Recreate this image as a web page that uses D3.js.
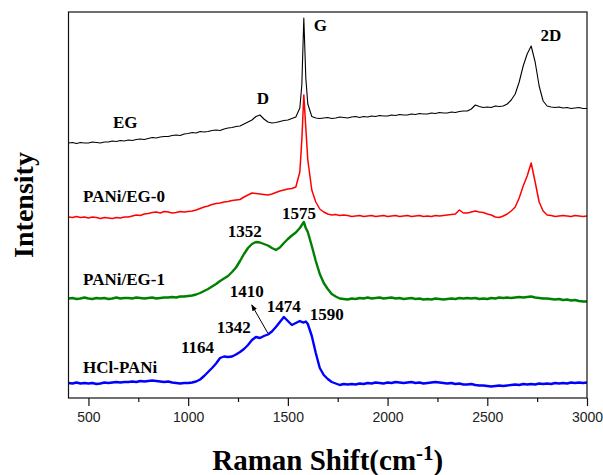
<!DOCTYPE html>
<html>
<head>
<meta charset="utf-8">
<script src="https://cdn.jsdelivr.net/npm/d3@7"></script>
<style>
  html, body { margin: 0; padding: 0; background: #fff; }
  svg { display: block; }
</style>
</head>
<body>
<div id="chart"></div>
<script>
// Raman shift grid (cm-1)
const shift = [
  400, 420, 440, 460, 480,
  500, 520, 540, 560, 580,
  600, 620, 640, 660, 680,
  700, 720, 740, 760, 780,
  800, 820, 840, 860, 880,
  900, 920, 940, 960, 980,
  1000, 1020, 1040, 1060, 1080,
  1100, 1120, 1140, 1160, 1180,
  1200, 1220, 1240, 1260, 1280,
  1300, 1320, 1340, 1360, 1380,
  1400, 1420, 1440, 1460, 1480,
  1500, 1520, 1540, 1560, 1570, 1580, 1590,
  1600, 1620, 1640, 1660, 1680,
  1700, 1720, 1740, 1760, 1780,
  1800, 1820, 1840, 1860, 1880,
  1900, 1920, 1940, 1960, 1980,
  2000, 2020, 2040, 2060, 2080,
  2100, 2120, 2140, 2160, 2180,
  2200, 2220, 2240, 2260, 2280,
  2300, 2320, 2340, 2360, 2380,
  2400, 2420, 2440, 2460, 2480,
  2500, 2520, 2540, 2560, 2580,
  2600, 2620, 2640, 2660, 2680,
  2700, 2720, 2740, 2760, 2780,
  2800, 2820, 2840, 2860, 2880,
  2900, 2920, 2940, 2960, 2980,
  3000
];

// stacked intensities (a.u.), as plotted
const eg = [
  255, 255.5, 254.5, 255.5, 255,
  255, 256, 255.5, 255, 256,
  256, 257, 256.5, 257.5, 257,
  258, 257.5, 258.5, 259, 258.5,
  259.5, 260.5, 260, 261, 261.5,
  261.5, 262.5, 263, 262.5, 264,
  264.5, 265.5, 265, 266.5, 266,
  266.5, 267.5, 268, 267.5, 269,
  270, 270.5, 271.5, 272, 274,
  276, 278, 281.5, 283, 279,
  276, 275, 275.5, 276.5, 277.5,
  278, 279.5, 281, 290, 313, 380, 320,
  294, 281.5, 280, 279.5, 280,
  280.5, 279.5, 280, 281, 280.5,
  280, 281, 281.5, 280.5, 281.5,
  281, 282, 281.5, 282.5, 282,
  282, 283, 282.5, 283.5, 283,
  283, 284, 283.5, 284.5, 284,
  284, 285, 284.5, 285.5, 285,
  285, 286, 285.5, 286.5, 287,
  287, 289, 293, 291.5, 290.5,
  291, 290.5, 292, 291.5, 292,
  294, 298, 304, 316, 332,
  344, 352, 336, 312, 297,
  292, 291, 290.5, 291, 290,
  290.5, 289.5, 290, 290.5, 289.5,
  289.5
];

const paniEg0 = [
  181, 180.5, 181.5, 180.5, 181,
  180, 181, 180.5, 179.5, 180.5,
  180, 179.5, 180.5, 180, 181,
  181, 182, 183, 182.5, 184,
  184.5, 185.5, 186, 185, 186.5,
  186, 185, 185.5, 186.5, 186,
  186.5, 187, 188, 189.5, 191,
  192, 193.5, 194.5, 195, 196,
  196.5, 197.5, 198, 198.5, 201,
  203, 205, 204.5, 204, 203.5,
  203, 204, 205.5, 207, 208,
  209, 209.5, 211, 226, 258, 303, 270,
  238, 208, 196, 189, 186,
  184, 183, 183.5, 182.5, 183,
  182.5, 181.5, 182, 182.5, 181.5,
  182, 182.5, 181.5, 182, 182.5,
  181.5, 182, 182.5, 181.5, 182,
  182.5, 181.5, 182, 182.5, 181.5,
  182, 181.5, 182.5, 182, 182.5,
  183, 183.5, 184, 188, 185,
  185, 186, 187, 186, 185.5,
  184, 183, 181, 180.5, 182,
  184, 187, 191, 200, 212,
  222, 235, 216, 196, 187,
  183, 182.5, 181.5, 182, 182.5,
  182, 181.5, 182.5, 182, 181.5,
  182
];

const paniEg1 = [
  99.5, 100, 99, 99.5, 100.5,
  99.5, 99, 100, 99.5, 100,
  99, 99.5, 100.5, 99.5, 100,
  100, 99.5, 100.5, 100, 99.5,
  100, 100.5, 99.5, 100, 100.5,
  100.5, 101, 100.5, 101.5, 101.5,
  102, 102.5, 103.5, 105, 107,
  109, 111.5, 114, 117, 119.5,
  122, 126, 130.5, 137, 144,
  150, 154, 156, 155.5, 154,
  152.5, 150, 148, 150.5, 155,
  159, 162.5, 165.5, 170, 173, 176, 170,
  166, 152, 137, 124, 115,
  109, 104, 101.5, 99.5, 99,
  98.5, 99.5, 99, 100, 99.5,
  100.5, 99.5, 100, 100.5, 99.5,
  100, 100.5, 99.5, 100, 99,
  99.5, 100, 99, 99.5, 98.5,
  99, 98.5, 99.5, 99, 98.5,
  99, 99.5, 99, 100, 99.5,
  100, 99.5, 100, 99, 99.5,
  99, 100, 99.5, 100.5, 100,
  100.5, 100, 100.5, 101, 100.5,
  101, 101.5, 100.5, 100, 99.5,
  99.5, 99, 98.5, 99, 98,
  98.5, 97.5, 98, 97, 96.5,
  96.5
];

const hclPani = [
  15, 14.5, 15.5, 14.5, 15,
  14.5, 15, 14, 14.5, 15.5,
  15, 15.5, 16, 15.5, 16,
  16, 16.5, 16, 17, 16.5,
  17, 17.5, 17, 16.5, 16,
  16.5, 15.5, 15, 14.5, 15,
  15, 15.5, 16.5, 18.5, 22,
  26, 30, 34.5, 40, 41.5,
  41, 41.5, 43.5, 46, 49,
  53, 58, 61, 60, 62,
  63.5, 66.5, 71, 76, 81,
  77, 73, 75, 77, 76, 75.5, 76.5,
  74, 62, 45, 30, 23,
  19, 16, 14.5, 13, 14,
  13.5, 14, 13.5, 14.5, 14,
  15, 14.5, 15.5, 15, 14.5,
  15.5, 15, 16, 15.5, 15,
  15.5, 16, 15, 15.5, 14.5,
  15, 15.5, 16, 15.5, 15,
  14.5, 15, 14, 14.5, 13.5,
  13.5, 14, 13, 12.5, 12.5,
  12, 11.5, 12, 12.5, 12,
  12.5, 13, 13.5, 13, 14,
  13.5, 14, 13.5, 14.5, 14,
  14.5, 14, 15, 14.5, 15,
  14.5, 15.5, 15, 15.5, 15,
  15.5
];

const majorTicks = [500, 1000, 1500, 2000, 2500, 3000];
const minorTicks = [750, 1250, 1750, 2250, 2750];

// annotation texts and their anchors (cm-1, a.u.)
const labelText = ['EG', 'D', 'G', '2D', 'PANi/EG-0', '1352', '1575', 'PANi/EG-1',
  '1410', '1474', '1342', '1590', '1164', 'HCl-PANi'];
const labelShift = [623, 1344, 1630, 2767, 473, 1199, 1470, 473, 1209, 1394, 1144, 1610, 964, 473];
const labelLevel = [270, 294, 367, 357, 196, 161, 179, 113, 101, 86, 65, 78, 45, 25];

// arrow pointing at the 1410 shoulder
const arrowShift = [1399, 1319];
const arrowLevel = [65, 93];

const width = 603;
const height = 475;
const margin = { top: 12, right: 16, bottom: 77, left: 68.5 };

const svg = d3.select('#chart').append('svg')
  .attr('width', width)
  .attr('height', height);

const x = d3.scaleLinear().domain([400, 3000]).range([margin.left, width - margin.right]);
const y = d3.scaleLinear().domain([0, 386]).range([height - margin.bottom, margin.top]);

const serif = '"Liberation Serif", "Times New Roman", Times, serif';

// Spectra

const series = [
  { values: eg, color: '#000000', w: 1.1 },
  { values: paniEg0, color: '#ff0000', w: 1.5 },
  { values: paniEg1, color: '#008000', w: 2.4 },
  { values: hclPani, color: '#0000ff', w: 2.4 },
];

const line = d3.line()
  .x((d, i) => x(shift[i]))
  .y(d => y(d));

svg.selectAll('path.spectrum')
  .data(series)
  .join('path')
  .attr('class', 'spectrum')
  .attr('d', d => line(d.values))
  .attr('fill', 'none')
  .attr('stroke', d => d.color)
  .attr('stroke-width', d => d.w)
  .attr('stroke-linejoin', 'round');

// Frame

svg.append('rect')
  .attr('x', x(400))
  .attr('y', y(386))
  .attr('width', x(3000) - x(400))
  .attr('height', y(0) - y(386))
  .attr('fill', 'none')
  .attr('stroke', '#111')
  .attr('stroke-width', 1.2);

// Bottom axis

const xAxis = svg.append('g')
  .attr('transform', `translate(0,${y(0)})`)
  .call(d3.axisBottom(x).tickValues(majorTicks).tickSize(8).tickPadding(6).tickFormat(d3.format('d')));
xAxis.select('.domain').remove();
xAxis.selectAll('line').attr('stroke', '#111').attr('stroke-width', 1.2);
xAxis.selectAll('text')
  .attr('fill', '#222')
  .style('font-family', '"Liberation Sans", Arial, sans-serif')
  .style('font-size', '14px');

const xMinor = svg.append('g')
  .attr('transform', `translate(0,${y(0)})`)
  .call(d3.axisBottom(x).tickValues(minorTicks).tickSize(4).tickFormat(''));
xMinor.select('.domain').remove();
xMinor.selectAll('line').attr('stroke', '#111').attr('stroke-width', 1.2);

// Annotations

svg.selectAll('text.note')
  .data(labelText)
  .join('text')
  .attr('class', 'note')
  .attr('x', (d, i) => x(labelShift[i]))
  .attr('y', (d, i) => y(labelLevel[i]))
  .style('font-family', serif)
  .style('font-weight', 'bold')
  .style('font-size', '17px')
  .attr('fill', '#000')
  .text(d => d);

svg.append('defs').append('marker')
  .attr('id', 'head')
  .attr('viewBox', '0 0 8 6')
  .attr('refX', 7)
  .attr('refY', 3)
  .attr('markerWidth', 7)
  .attr('markerHeight', 5)
  .attr('orient', 'auto')
  .append('path')
  .attr('d', 'M0,0 L8,3 L0,6 Z')
  .attr('fill', '#000');

svg.append('line')
  .attr('x1', x(arrowShift[0]))
  .attr('y1', y(arrowLevel[0]))
  .attr('x2', x(arrowShift[1]))
  .attr('y2', y(arrowLevel[1]))
  .attr('stroke', '#000')
  .attr('stroke-width', 1)
  .attr('marker-end', 'url(#head)');

// Axis titles

const xTitle = svg.append('text')
  .attr('x', (x(400) + x(3000)) / 2)
  .attr('y', 470)
  .attr('text-anchor', 'middle')
  .style('font-family', serif)
  .style('font-weight', 'bold')
  .style('font-size', '29px')
  .attr('fill', '#000');
xTitle.append('tspan').text('Raman Shift(cm');
xTitle.append('tspan').attr('dy', -10).style('font-size', '21px').text('-1');
xTitle.append('tspan').attr('dy', 10).text(')');

svg.append('text')
  .attr('transform', `translate(33,${(y(0) + y(386)) / 2}) rotate(-90)`)
  .attr('text-anchor', 'middle')
  .style('font-family', serif)
  .style('font-weight', 'bold')
  .style('font-size', '28px')
  .attr('fill', '#000')
  .text('Intensity');
</script>
</body>
</html>
